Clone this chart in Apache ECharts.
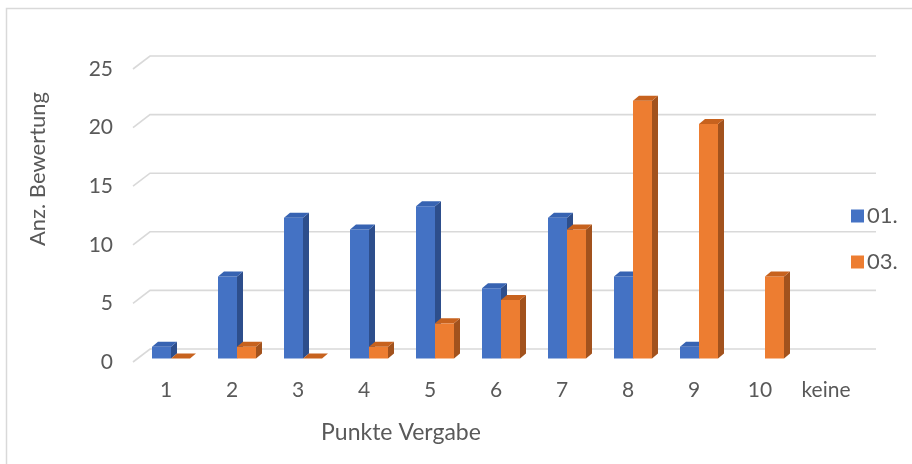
<!DOCTYPE html>
<html>
<head>
<meta charset="utf-8">
<script src="https://cdn.jsdelivr.net/npm/echarts@6/dist/echarts.min.js"></script>
<style>
  html, body { margin: 0; padding: 0; background: #ffffff; }
  #chart { width: 912px; height: 464px; }
</style>
</head>
<body>
<div id="chart"></div>
<script>
// Punkte-Verteilung der beiden Bewertungsrunden
const categories = ['1', '2', '3', '4', '5', '6', '7', '8', '9', '10', 'keine'];
const seriesNames = ['01.', '03.'];
const values01 = [1, 7, 12, 11, 13, 6, 12, 7, 1, null, null];
const values03 = [0, 1, 0, 1, 3, 5, 11, 22, 20, 7, null];
const yTicks = [0, 5, 10, 15, 20, 25];

const FONT = 'Lato, "Open Sans", sans-serif';
const TEXT = '#595959';
const GRID = '#d9d9d9';

// perspective offsets (pixels) of the back wall and of the bar depth
const WALL_DX = 17, WALL_DY = -13;
const BAR_DX = 6, BAR_DY = -5;
const BAR_LIFT = -3.5; // bars stand slightly behind the front edge of the floor

const palette = {
  '01.': { front: '#4472C4', top: '#3763B2', side: '#2D4E8C' },
  '03.': { front: '#ED7D31', top: '#C7621E', side: '#A2521D' }
};

function toPairs(arr) {
  return arr.map((v, i) => [i, v == null ? '-' : v]);
}

// back wall gridlines with the floor diagonal
function renderWall(params, api) {
  const cs = params.coordSys;
  const y = api.coord([0, api.value(0)])[1];
  const x0 = cs.x, x1 = cs.x + cs.width;
  return {
    type: 'polyline',
    shape: { points: [[x0, y], [x0 + WALL_DX, y + WALL_DY], [x1 + WALL_DX, y + WALL_DY]] },
    style: { stroke: GRID, lineWidth: 1.6, fill: null }
  };
}

function makeBarRenderer(name, left, right) {
  const col = palette[name];
  return function (params, api) {
    const v = api.value(1);
    if (v === '-' || v == null || isNaN(v)) return null;
    const c = api.coord([api.value(0), 0]);
    const t = api.coord([api.value(0), v]);
    const xa = c[0] + left, xb = c[0] + right;
    const yb = c[1] + BAR_LIFT, yt = t[1] + BAR_LIFT;
    const children = [];
    if (yb - yt > 0.1) {
      children.push({
        type: 'polygon',
        shape: { points: [[xb, yt], [xb + BAR_DX, yt + BAR_DY], [xb + BAR_DX, yb + BAR_DY], [xb, yb]] },
        style: { fill: col.side }
      });
      children.push({
        type: 'rect',
        shape: { x: xa, y: yt, width: xb - xa, height: yb - yt },
        style: { fill: col.front }
      });
    }
    children.push({
      type: 'polygon',
      shape: { points: [[xa, yt], [xb, yt], [xb + BAR_DX, yt + BAR_DY], [xa + BAR_DX, yt + BAR_DY]] },
      style: { fill: col.top }
    });
    return { type: 'group', children: children };
  };
}

const chart = echarts.init(document.getElementById('chart'), null, { renderer: 'canvas' });

chart.setOption({
  animation: false,
  backgroundColor: '#ffffff',
  color: [palette['01.'].front, palette['03.'].front],
  grid: { left: 133, right: 53, top: 69, bottom: 102, containLabel: false },
  legend: {
    orient: 'vertical',
    left: 846,
    top: 200,
    itemWidth: 13,
    itemHeight: 13,
    itemGap: 24,
    icon: 'rect',
    data: seriesNames,
    textStyle: { color: TEXT, fontFamily: FONT, fontSize: 22, padding: [0, 0, 0, -2] }
  },
  xAxis: {
    type: 'category',
    data: categories,
    axisLine: { show: false },
    axisTick: { show: false },
    splitLine: { show: false },
    axisLabel: { color: TEXT, fontFamily: FONT, fontSize: 21, margin: 18 }
  },
  yAxis: {
    type: 'value',
    min: 0,
    max: 25,
    interval: 5,
    axisLine: { show: false },
    axisTick: { show: false },
    splitLine: { show: false },
    axisLabel: { color: TEXT, fontFamily: FONT, fontSize: 21, margin: 20 }
  },
  graphic: [
    {
      type: 'rect',
      shape: { x: 6.5, y: 8.5, width: 940, height: 500 },
      style: { fill: null, stroke: GRID, lineWidth: 1.5 },
      silent: true
    },
    {
      type: 'text',
      x: 38, y: 169,
      rotation: Math.PI / 2,
      style: { text: 'Anz. Bewertung', fill: TEXT, font: '22px ' + FONT, align: 'center', verticalAlign: 'middle' }
    },
    {
      type: 'text',
      x: 401, y: 433,
      style: { text: 'Punkte Vergabe', fill: TEXT, font: '23px ' + FONT, align: 'center', verticalAlign: 'middle' }
    }
  ],
  series: [
    {
      type: 'custom',
      name: 'wall',
      silent: true,
      renderItem: renderWall,
      data: yTicks.map(v => [v]),
      encode: { y: 0 },
      z: 1
    },
    {
      type: 'custom',
      name: seriesNames[0],
      renderItem: makeBarRenderer(seriesNames[0], -14, 5),
      data: toPairs(values01),
      encode: { x: 0, y: 1 },
      itemStyle: { color: palette['01.'].front },
      z: 2
    },
    {
      type: 'custom',
      name: seriesNames[1],
      renderItem: makeBarRenderer(seriesNames[1], 5, 24),
      data: toPairs(values03),
      encode: { x: 0, y: 1 },
      itemStyle: { color: palette['03.'].front },
      z: 3
    }
  ]
});
</script>
</body>
</html>
